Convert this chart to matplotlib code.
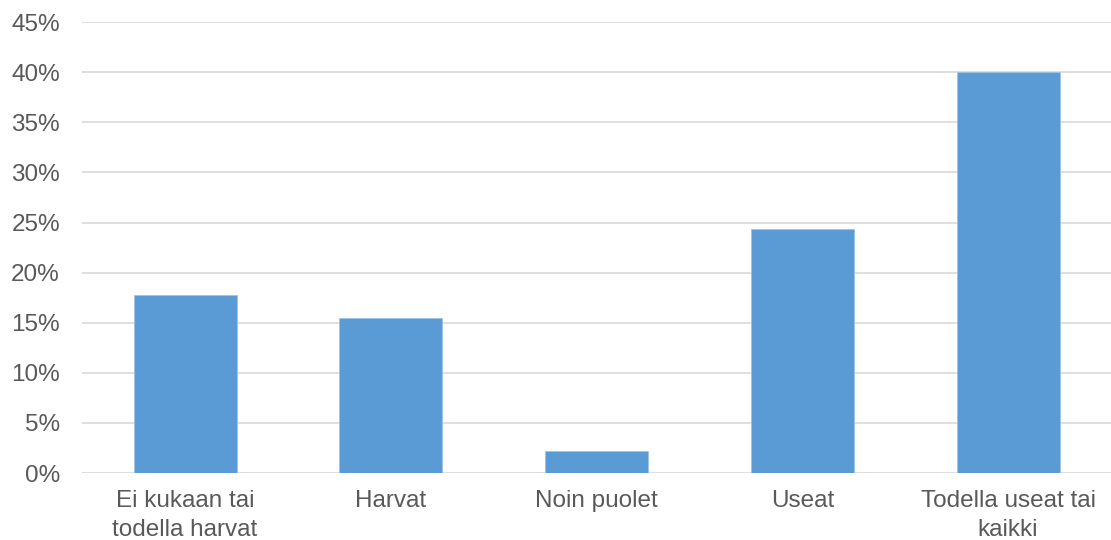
import matplotlib.pyplot as plt
from matplotlib.ticker import PercentFormatter

# Data
categories = ['Ei kukaan tai\ntodella harvat', 'Harvat', 'Noin puolet', 'Useat', 'Todella useat tai\nkaikki']
values = [17.8, 15.5, 2.2, 24.4, 40.0]
y_ticks = [0, 5, 10, 15, 20, 25, 30, 35, 40, 45]

plt.rcParams['font.family'] = ['Liberation Sans', 'DejaVu Sans']

fig = plt.figure(figsize=(11.11, 5.4), dpi=100)
ax = fig.add_axes([0.074, 0.124, 0.926, 0.835])

x = range(len(categories))
ax.bar(x, values, width=0.5, color='#5B9BD5', edgecolor='#9DC3E6', linewidth=0.6, zorder=3)

ax.set_xlim(-0.5, len(categories) - 0.5)
ax.set_ylim(0, 45)
ax.set_yticks(y_ticks)
ax.yaxis.set_major_formatter(PercentFormatter(decimals=0))
ax.set_xticks(list(x))
ax.set_xticklabels(categories, linespacing=1.4)

ax.grid(axis='y', color='#D9D9D9', linewidth=1.2, zorder=0)
for s in ax.spines.values():
    s.set_visible(False)
ax.tick_params(axis='both', length=0, labelsize=17.5, colors='#595959')
ax.tick_params(axis='y', pad=16)
ax.tick_params(axis='x', pad=12)

fig.savefig('out.png', dpi=100)
